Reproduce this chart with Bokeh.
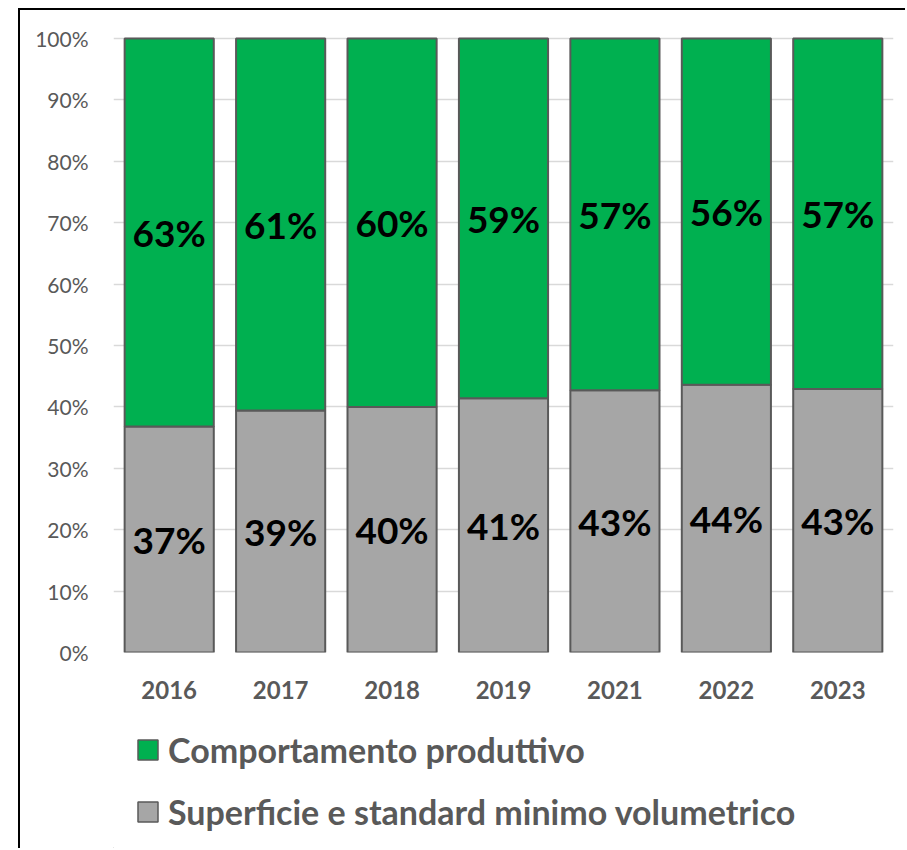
from bokeh.plotting import figure
from bokeh.layouts import column
from bokeh.models import (FactorRange, Range1d, Legend, LegendItem,
                          ColumnDataSource, NumeralTickFormatter, FixedTicker)
from bokeh.core.properties import value
from bokeh.embed import file_html
from bokeh.resources import INLINE

# ---- data ----
years = ["2016", "2017", "2018", "2019", "2021", "2022", "2023"]
superficie = [36.8, 39.4, 40.0, 41.4, 42.7, 43.6, 42.9]      # % grey (bottom)
comportamento = [63.2, 60.6, 60.0, 58.6, 57.3, 56.4, 57.1]   # % green (top)
y_ticks = [0, 10, 20, 30, 40, 50, 60, 70, 80, 90, 100]
series_names = ["Comportamento produttivo", "Superficie e standard minimo volumetrico"]

GREEN = "#00B050"
GREY = "#A6A6A6"
EDGE = "#595959"
TXT = "#595959"

g = [v / 100 for v in superficie]
c = [v / 100 for v in comportamento]
src = ColumnDataSource(dict(
    year=years,
    g_bottom=[0] * len(years),
    g_top=g,
    c_bottom=g,
    c_top=[a + b for a, b in zip(g, c)],
    g_mid=[a / 2 for a in g],
    c_mid=[a + b / 2 for a, b in zip(g, c)],
    g_lbl=[f"{round(v)}%" for v in superficie],
    c_lbl=[f"{round(v)}%" for v in comportamento],
))

# chart: canvas starts at (20, 10) in the window, after an 18/8 px margin and a 2 px border
p = figure(x_range=FactorRange(factors=years, range_padding=0),
           y_range=Range1d(0, 1.005),
           width=887, height=710, title=None,
           output_backend="svg", toolbar_location=None,
           min_border_left=93, min_border_right=14,
           min_border_top=25, min_border_bottom=68)
p.margin = (8, 0, 0, 18)
p.styles = {"border-left": "2px solid black", "border-top": "2px solid black"}
p.outline_line_color = None
p.background_fill_color = "white"
p.border_fill_color = "white"

r_grey = p.vbar(x="year", bottom="g_bottom", top="g_top", width=0.8, source=src,
                fill_color=GREY, line_color=EDGE, line_width=2)
r_green = p.vbar(x="year", bottom="c_bottom", top="c_top", width=0.8, source=src,
                 fill_color=GREEN, line_color=EDGE, line_width=2)

for ycol, tcol in (("g_mid", "g_lbl"), ("c_mid", "c_lbl")):
    p.text(x="year", y=ycol, text=tcol, source=src,
           text_align="center", text_baseline="middle",
           text_font=value("Lato"), text_font_style="bold",
           text_font_size="37px", text_color="black")

# axes
p.yaxis.ticker = FixedTicker(ticks=[t / 100 for t in y_ticks])
p.yaxis.formatter = NumeralTickFormatter(format="0%")
p.yaxis.major_label_text_font = "Lato"
p.yaxis.major_label_text_font_size = "21px"
p.yaxis.major_label_text_color = TXT
p.yaxis.axis_line_color = None
p.yaxis.major_tick_line_color = None
p.yaxis.minor_tick_line_color = None
p.yaxis.major_label_standoff = 19

p.xaxis.major_label_text_font = "Lato"
p.xaxis.major_label_text_font_style = "bold"
p.xaxis.major_label_text_font_size = "24px"
p.xaxis.major_label_text_color = TXT
p.xaxis.axis_line_color = None
p.xaxis.major_tick_line_color = None
p.xaxis.minor_tick_line_color = None
p.xaxis.major_label_standoff = 22

p.xgrid.grid_line_color = None
p.ygrid.ticker = FixedTicker(ticks=[t / 100 for t in y_ticks])
p.ygrid.grid_line_color = "#D9D9D9"
p.ygrid.grid_line_width = 1.3
p.ygrid.level = "underlay"

# legend strip below the chart (its frame is aligned with the chart's frame)
q = figure(x_range=Range1d(0, 780), y_range=Range1d(0, 130),
           width=887, height=130, title=None,
           output_backend="svg", toolbar_location=None,
           x_axis_type=None, y_axis_type=None,
           min_border=0, min_border_left=0, min_border_right=0,
           min_border_top=0, min_border_bottom=0)
q.margin = (0, 0, 0, 18)
q.styles = {"border-left": "2px solid black"}
q.outline_line_color = None
q.xgrid.grid_line_color = None
q.ygrid.grid_line_color = None
q.background_fill_color = "white"
q.border_fill_color = "white"

# swatch renderers for the legend (placed far outside the visible range)
swatch = ColumnDataSource(dict(x=[-5000], bottom=[-5001], top=[-5000]))
l_green = q.vbar(x="x", bottom="bottom", top="top", width=1, source=swatch,
                 fill_color=GREEN, line_color=EDGE, line_width=1.5)
l_grey = q.vbar(x="x", bottom="bottom", top="top", width=1, source=swatch,
                fill_color=GREY, line_color=EDGE, line_width=1.5)

legend = Legend(items=[LegendItem(label=series_names[0], renderers=[l_green]),
                       LegendItem(label=series_names[1], renderers=[l_grey])],
                location=(22, 16), orientation="vertical",
                glyph_width=25, glyph_height=25, label_standoff=8,
                label_height=40, spacing=21, padding=0, margin=0,
                border_line_color=None, background_fill_alpha=0,
                label_text_font="Lato", label_text_font_style="bold",
                label_text_font_size="34px", label_text_color=TXT)
q.add_layout(legend, "center")

layout = column(p, q, spacing=0)
open("out.html", "w").write(file_html(layout, INLINE))
